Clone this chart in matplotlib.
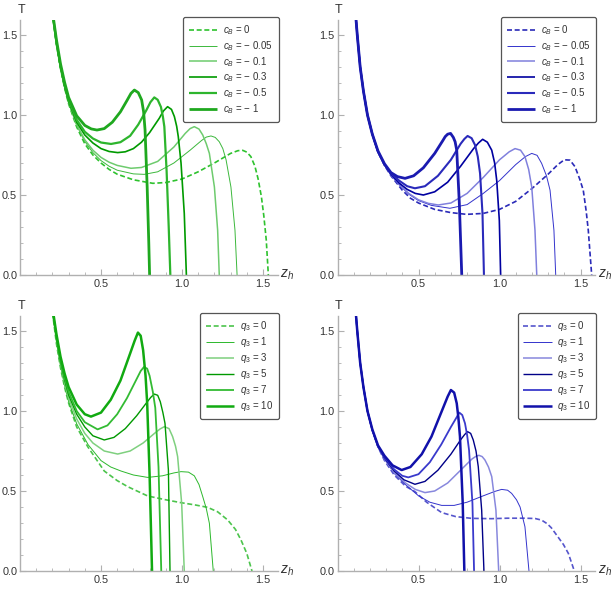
import matplotlib
matplotlib.use("Agg")
import matplotlib.pyplot as plt
from matplotlib.ticker import MultipleLocator

plt.rcParams['font.family'] = ['Liberation Sans', 'DejaVu Sans']
plt.rcParams['mathtext.fontset'] = 'custom'
plt.rcParams['mathtext.it'] = 'Liberation Sans:italic'
plt.rcParams['mathtext.rm'] = 'Liberation Sans'

# ---------------- data ----------------
cb_labels = [r'$c_B$ = 0', r'$c_B$ = − 0.05', r'$c_B$ = − 0.1', r'$c_B$ = − 0.3', r'$c_B$ = − 0.5', r'$c_B$ = − 1']
q3_labels = [r'$q_3$ = 0', r'$q_3$ = 1', r'$q_3$ = 3', r'$q_3$ = 5', r'$q_3$ = 7', r'$q_3$ = 10']

# top-left (green, c_B)
tl_z = [
    [0.20, 0.225, 0.25, 0.275, 0.30, 0.35, 0.40, 0.45, 0.50, 0.55, 0.60, 0.70, 0.82, 0.90, 1.00, 1.10, 1.20, 1.30, 1.345, 1.375, 1.40, 1.425, 1.45, 1.47, 1.49, 1.505, 1.52, 1.533],
    [0.20, 0.225, 0.25, 0.275, 0.30, 0.35, 0.40, 0.45, 0.50, 0.55, 0.60, 0.70, 0.767, 0.85, 0.95, 1.05, 1.12, 1.15, 1.179, 1.205, 1.23, 1.252, 1.272, 1.302, 1.327, 1.34],
    [0.20, 0.225, 0.25, 0.275, 0.30, 0.35, 0.40, 0.45, 0.50, 0.55, 0.60, 0.685, 0.75, 0.85, 0.95, 1.02, 1.05, 1.076, 1.105, 1.128, 1.15, 1.169, 1.20, 1.22, 1.23],
    [0.20, 0.225, 0.25, 0.275, 0.30, 0.35, 0.40, 0.45, 0.50, 0.55, 0.603, 0.65, 0.70, 0.75, 0.80, 0.86, 0.885, 0.911, 0.935, 0.953, 0.967, 0.977, 0.994, 1.014, 1.027],
    [0.20, 0.225, 0.25, 0.275, 0.30, 0.35, 0.40, 0.45, 0.50, 0.562, 0.62, 0.68, 0.73, 0.78, 0.805, 0.829, 0.85, 0.87, 0.882, 0.891, 0.905, 0.918, 0.928],
    [0.20, 0.225, 0.25, 0.275, 0.30, 0.35, 0.40, 0.44, 0.475, 0.52, 0.57, 0.62, 0.66, 0.685, 0.706, 0.73, 0.751, 0.763, 0.772, 0.785, 0.795, 0.80],
]
tl_T = [
    [1.64, 1.44, 1.29, 1.17, 1.07, 0.925, 0.82, 0.75, 0.70, 0.66, 0.63, 0.595, 0.573, 0.578, 0.60, 0.645, 0.70, 0.76, 0.777, 0.779, 0.768, 0.74, 0.68, 0.60, 0.49, 0.37, 0.22, 0.0],
    [1.64, 1.44, 1.29, 1.17, 1.075, 0.935, 0.835, 0.765, 0.715, 0.68, 0.655, 0.632, 0.629, 0.645, 0.70, 0.78, 0.84, 0.862, 0.869, 0.86, 0.833, 0.79, 0.72, 0.55, 0.28, 0.0],
    [1.64, 1.45, 1.30, 1.18, 1.08, 0.94, 0.845, 0.78, 0.735, 0.705, 0.685, 0.667, 0.672, 0.71, 0.80, 0.885, 0.915, 0.927, 0.912, 0.875, 0.82, 0.76, 0.55, 0.28, 0.0],
    [1.64, 1.45, 1.30, 1.18, 1.085, 0.955, 0.875, 0.825, 0.79, 0.772, 0.765, 0.77, 0.79, 0.83, 0.89, 0.98, 1.025, 1.052, 1.035, 0.99, 0.93, 0.865, 0.70, 0.385, 0.0],
    [1.64, 1.455, 1.305, 1.19, 1.095, 0.97, 0.895, 0.853, 0.828, 0.819, 0.83, 0.87, 0.94, 1.03, 1.08, 1.11, 1.095, 1.05, 0.99, 0.927, 0.65, 0.30, 0.0],
    [1.65, 1.47, 1.32, 1.205, 1.11, 0.995, 0.935, 0.913, 0.906, 0.915, 0.955, 1.02, 1.09, 1.135, 1.156, 1.14, 1.094, 1.02, 0.906, 0.55, 0.2, 0.0],
]

# top-right (blue, c_B)
tr_z = [
    [0.11, 0.122, 0.14, 0.16, 0.185, 0.215, 0.25, 0.29, 0.33, 0.40, 0.45, 0.50, 0.60, 0.70, 0.797, 0.90, 1.00, 1.10, 1.20, 1.30, 1.36, 1.40, 1.435, 1.466, 1.495, 1.517, 1.535, 1.548, 1.569],
    [0.11, 0.122, 0.14, 0.16, 0.185, 0.215, 0.25, 0.29, 0.33, 0.38, 0.44, 0.50, 0.58, 0.694, 0.80, 0.90, 1.00, 1.10, 1.16, 1.199, 1.232, 1.26, 1.29, 1.312, 1.336, 1.347],
    [0.11, 0.122, 0.14, 0.16, 0.185, 0.215, 0.25, 0.29, 0.33, 0.38, 0.44, 0.50, 0.56, 0.622, 0.70, 0.80, 0.90, 1.00, 1.06, 1.096, 1.13, 1.157, 1.18, 1.199, 1.219, 1.23],
    [0.11, 0.122, 0.14, 0.16, 0.185, 0.215, 0.25, 0.29, 0.33, 0.38, 0.43, 0.48, 0.53, 0.60, 0.68, 0.76, 0.84, 0.87, 0.896, 0.925, 0.952, 0.97, 0.983, 0.999, 1.007],
    [0.11, 0.122, 0.14, 0.16, 0.185, 0.215, 0.25, 0.29, 0.33, 0.38, 0.43, 0.478, 0.54, 0.62, 0.70, 0.76, 0.783, 0.803, 0.828, 0.849, 0.866, 0.88, 0.895, 0.904],
    [0.11, 0.122, 0.14, 0.16, 0.185, 0.215, 0.25, 0.29, 0.33, 0.37, 0.417, 0.47, 0.53, 0.60, 0.65, 0.665, 0.68, 0.698, 0.715, 0.726, 0.736, 0.752, 0.767],
]
tr_T = [
    [1.65, 1.50, 1.30, 1.15, 1.0, 0.88, 0.77, 0.685, 0.62, 0.53, 0.48, 0.45, 0.41, 0.39, 0.379, 0.385, 0.41, 0.46, 0.54, 0.63, 0.69, 0.72, 0.718, 0.677, 0.60, 0.53, 0.40, 0.28, 0.0],
    [1.65, 1.50, 1.30, 1.15, 1.0, 0.88, 0.77, 0.69, 0.625, 0.565, 0.505, 0.465, 0.435, 0.417, 0.44, 0.51, 0.59, 0.69, 0.74, 0.76, 0.748, 0.698, 0.62, 0.53, 0.28, 0.0],
    [1.65, 1.50, 1.30, 1.15, 1.0, 0.88, 0.77, 0.69, 0.627, 0.567, 0.51, 0.47, 0.448, 0.4375, 0.45, 0.51, 0.61, 0.72, 0.77, 0.79, 0.78, 0.74, 0.66, 0.55, 0.28, 0.0],
    [1.65, 1.50, 1.30, 1.15, 1.0, 0.88, 0.77, 0.69, 0.63, 0.575, 0.535, 0.51, 0.50, 0.52, 0.58, 0.68, 0.79, 0.825, 0.848, 0.83, 0.78, 0.70, 0.59, 0.34, 0.0],
    [1.65, 1.50, 1.30, 1.15, 1.0, 0.88, 0.77, 0.69, 0.635, 0.59, 0.555, 0.542, 0.555, 0.62, 0.72, 0.82, 0.85, 0.869, 0.855, 0.8125, 0.74, 0.635, 0.385, 0.0],
    [1.65, 1.50, 1.30, 1.15, 1.0, 0.88, 0.775, 0.695, 0.64, 0.615, 0.604, 0.62, 0.67, 0.76, 0.84, 0.865, 0.88, 0.885, 0.86, 0.833, 0.78, 0.45, 0.0],
]

# bottom-left (green, q_3)
bl_z = [
    [0.20, 0.225, 0.25, 0.275, 0.30, 0.35, 0.418, 0.52, 0.60, 0.665, 0.788, 0.90, 0.994, 1.08, 1.158, 1.22, 1.282, 1.33, 1.364, 1.40, 1.432],
    [0.20, 0.225, 0.25, 0.275, 0.30, 0.35, 0.42, 0.50, 0.56, 0.623, 0.70, 0.788, 0.88, 0.95, 0.994, 1.04, 1.076, 1.105, 1.128, 1.15, 1.169, 1.193],
    [0.20, 0.225, 0.25, 0.275, 0.30, 0.35, 0.40, 0.45, 0.52, 0.603, 0.68, 0.76, 0.83, 0.865, 0.891, 0.92, 0.942, 0.96, 0.973, 0.998, 1.014],
    [0.20, 0.225, 0.25, 0.275, 0.30, 0.35, 0.40, 0.45, 0.52, 0.58, 0.65, 0.72, 0.78, 0.807, 0.829, 0.85, 0.866, 0.882, 0.895, 0.916, 0.926],
    [0.20, 0.225, 0.25, 0.275, 0.30, 0.35, 0.40, 0.479, 0.54, 0.60, 0.66, 0.72, 0.745, 0.765, 0.785, 0.80, 0.82, 0.835, 0.855, 0.872],
    [0.20, 0.225, 0.25, 0.275, 0.30, 0.35, 0.40, 0.438, 0.50, 0.56, 0.62, 0.68, 0.708, 0.728, 0.745, 0.76, 0.775, 0.785, 0.80, 0.815],
]
bl_T = [
    [1.62, 1.42, 1.27, 1.15, 1.05, 0.90, 0.777, 0.625, 0.565, 0.527, 0.469, 0.445, 0.427, 0.413, 0.398, 0.37, 0.319, 0.26, 0.194, 0.11, 0.0],
    [1.62, 1.43, 1.28, 1.16, 1.06, 0.92, 0.79, 0.69, 0.65, 0.625, 0.60, 0.585, 0.595, 0.613, 0.621, 0.618, 0.595, 0.54, 0.465, 0.39, 0.298, 0.0],
    [1.63, 1.45, 1.30, 1.18, 1.08, 0.95, 0.86, 0.80, 0.75, 0.731, 0.75, 0.80, 0.86, 0.888, 0.902, 0.89, 0.84, 0.78, 0.715, 0.423, 0.0],
    [1.63, 1.455, 1.31, 1.195, 1.10, 0.98, 0.90, 0.845, 0.819, 0.835, 0.89, 0.97, 1.05, 1.085, 1.106, 1.098, 1.058, 0.99, 0.923, 0.631, 0.0],
    [1.64, 1.465, 1.32, 1.21, 1.12, 1.00, 0.93, 0.885, 0.91, 0.98, 1.08, 1.20, 1.25, 1.275, 1.265, 1.22, 1.12, 1.02, 0.65, 0.0],
    [1.65, 1.48, 1.34, 1.235, 1.15, 1.04, 0.98, 0.965, 0.99, 1.07, 1.19, 1.36, 1.44, 1.49, 1.47, 1.38, 1.22, 1.05, 0.60, 0.0],
]

# bottom-right (blue, q_3)
br_z = [
    [0.11, 0.122, 0.14, 0.16, 0.185, 0.215, 0.25, 0.29, 0.35, 0.42, 0.478, 0.55, 0.643, 0.73, 0.828, 0.95, 1.05, 1.157, 1.22, 1.26, 1.295, 1.32, 1.363, 1.395, 1.425, 1.462],
    [0.11, 0.122, 0.14, 0.16, 0.185, 0.215, 0.25, 0.29, 0.35, 0.42, 0.50, 0.57, 0.643, 0.72, 0.80, 0.90, 0.97, 1.013, 1.05, 1.075, 1.105, 1.127, 1.157, 1.182],
    [0.11, 0.122, 0.14, 0.16, 0.185, 0.215, 0.25, 0.29, 0.35, 0.42, 0.48, 0.54, 0.60, 0.68, 0.76, 0.83, 0.855, 0.873, 0.893, 0.91, 0.932, 0.952, 0.978, 0.995],
    [0.11, 0.122, 0.14, 0.16, 0.185, 0.215, 0.25, 0.29, 0.35, 0.41, 0.478, 0.54, 0.62, 0.70, 0.76, 0.785, 0.803, 0.822, 0.838, 0.855, 0.869, 0.89, 0.904],
    [0.11, 0.122, 0.14, 0.16, 0.185, 0.215, 0.25, 0.29, 0.35, 0.40, 0.437, 0.50, 0.57, 0.64, 0.70, 0.735, 0.752, 0.77, 0.787, 0.80, 0.812, 0.833, 0.843],
    [0.11, 0.122, 0.14, 0.16, 0.185, 0.215, 0.25, 0.29, 0.34, 0.396, 0.45, 0.52, 0.58, 0.64, 0.68, 0.70, 0.72, 0.736, 0.746, 0.756, 0.773, 0.783],
]
br_T = [
    [1.65, 1.50, 1.30, 1.15, 1.0, 0.88, 0.775, 0.69, 0.60, 0.53, 0.496, 0.43, 0.365, 0.34, 0.329, 0.327, 0.33, 0.33, 0.328, 0.318, 0.295, 0.27, 0.21, 0.165, 0.11, 0.0],
    [1.65, 1.50, 1.30, 1.15, 1.0, 0.88, 0.775, 0.70, 0.61, 0.54, 0.47, 0.43, 0.41, 0.41, 0.43, 0.47, 0.497, 0.51, 0.505, 0.485, 0.445, 0.40, 0.277, 0.0],
    [1.65, 1.50, 1.30, 1.15, 1.0, 0.88, 0.775, 0.70, 0.615, 0.55, 0.51, 0.49, 0.50, 0.55, 0.63, 0.70, 0.717, 0.723, 0.715, 0.694, 0.65, 0.59, 0.38, 0.0],
    [1.65, 1.50, 1.30, 1.15, 1.0, 0.88, 0.78, 0.705, 0.625, 0.57, 0.542, 0.56, 0.63, 0.73, 0.82, 0.853, 0.871, 0.86, 0.819, 0.75, 0.652, 0.38, 0.0],
    [1.65, 1.50, 1.30, 1.15, 1.0, 0.88, 0.78, 0.71, 0.635, 0.595, 0.585, 0.605, 0.68, 0.79, 0.90, 0.96, 0.99, 0.975, 0.923, 0.85, 0.756, 0.423, 0.0],
    [1.65, 1.50, 1.30, 1.15, 1.0, 0.885, 0.785, 0.72, 0.66, 0.631, 0.65, 0.73, 0.84, 0.99, 1.09, 1.131, 1.115, 1.048, 0.96, 0.84, 0.423, 0.0],
]

# ---------------- styles ----------------
green_cb = [('#2ec22e', 1.2, (0, (3, 1.6))), ('#3cb83c', 0.7, '-'), ('#6ecb6e', 1.1, '-'),
            ('#009a00', 1.2, '-'), ('#2db52d', 1.6, '-'), ('#1fa81f', 2.0, '-')]
blue_cb = [('#2a2ab8', 1.2, (0, (3, 1.6))), ('#3333cc', 0.7, '-'), ('#8080dd', 1.1, '-'),
           ('#0000a0', 1.2, '-'), ('#2a2abb', 1.5, '-'), ('#1a1ab0', 2.0, '-')]
green_q3 = [('#4cc44c', 1.2, (0, (3, 1.6))), ('#2cb82c', 0.7, '-'), ('#7fd07f', 1.1, '-'),
            ('#009900', 1.0, '-'), ('#33bb33', 1.3, '-'), ('#11aa11', 1.8, '-')]
blue_q3 = [('#5555cc', 1.2, (0, (3, 1.6))), ('#3333cc', 0.7, '-'), ('#8888dd', 1.1, '-'),
           ('#000088', 1.0, '-'), ('#3a3acc', 1.3, '-'), ('#1111aa', 1.8, '-')]

W, H = 614, 591
fig = plt.figure(figsize=(W / 100, H / 100), dpi=100)

XMAX = 1.59
YMAX = 1.594
axw = 162 * XMAX
axh = 160 * YMAX

def make_axes(left_px, bottom_px):
    return fig.add_axes([left_px / W, (H - bottom_px) / H, axw / W, axh / H])

panels = [
    (make_axes(20, 275), tl_z, tl_T, green_cb, cb_labels),
    (make_axes(337.5, 275), tr_z, tr_T, blue_cb, cb_labels),
    (make_axes(20, 571), bl_z, bl_T, green_q3, q3_labels),
    (make_axes(337.5, 571), br_z, br_T, blue_q3, q3_labels),
]

axis_gray = '#b0b0b0'
text_gray = '#333333'

for ax, zs, Ts, styles, labels in panels:
    for z, T, (c, lw, ls), lab in zip(zs, Ts, styles, labels):
        ax.plot(z, T, color=c, lw=lw, ls=ls, label=lab, solid_joinstyle='round',
                solid_capstyle='butt')
    ax.set_xlim(0, XMAX)
    ax.set_ylim(0, YMAX)
    for s in ['top', 'right']:
        ax.spines[s].set_visible(False)
    for s in ['left', 'bottom']:
        ax.spines[s].set_color(axis_gray)
        ax.spines[s].set_linewidth(1.0)
    ax.set_xticks([0.5, 1.0, 1.5])
    ax.set_yticks([0.0, 0.5, 1.0, 1.5])
    ax.set_xticklabels(['0.5', '1.0', '1.5'])
    ax.set_yticklabels(['0.0', '0.5', '1.0', '1.5'])
    ax.xaxis.set_minor_locator(MultipleLocator(0.1))
    ax.yaxis.set_minor_locator(MultipleLocator(0.1))
    ax.tick_params(which='major', direction='in', length=4.5, width=0.8, color=axis_gray,
                   labelsize=7.8, labelcolor=text_gray, pad=2)
    ax.tick_params(axis='x', which='major', pad=3)
    ax.tick_params(which='minor', direction='in', length=2.5, width=0.6, color=axis_gray)
    ax.patch.set_alpha(0)
    ax.text(0.005, 1.015, 'T', transform=ax.transAxes, ha='center', va='bottom',
            fontsize=9, color=text_gray, clip_on=False)
    ax.text(1.01, 0.0, r'$z_h$', transform=ax.transAxes, ha='left', va='center',
            fontsize=10, color=text_gray, clip_on=False)
    leg = ax.legend(loc='upper right', bbox_to_anchor=(1.005, 1.01), borderaxespad=0,
                    fontsize=7, handlelength=2.9, labelspacing=0.2, borderpad=0.6,
                    handletextpad=0.6, fancybox=True, framealpha=1, edgecolor='#555555')
    leg.get_frame().set_linewidth(0.9)
    for t in leg.get_texts():
        t.set_color(text_gray)

fig.savefig('out.png', dpi=100)
